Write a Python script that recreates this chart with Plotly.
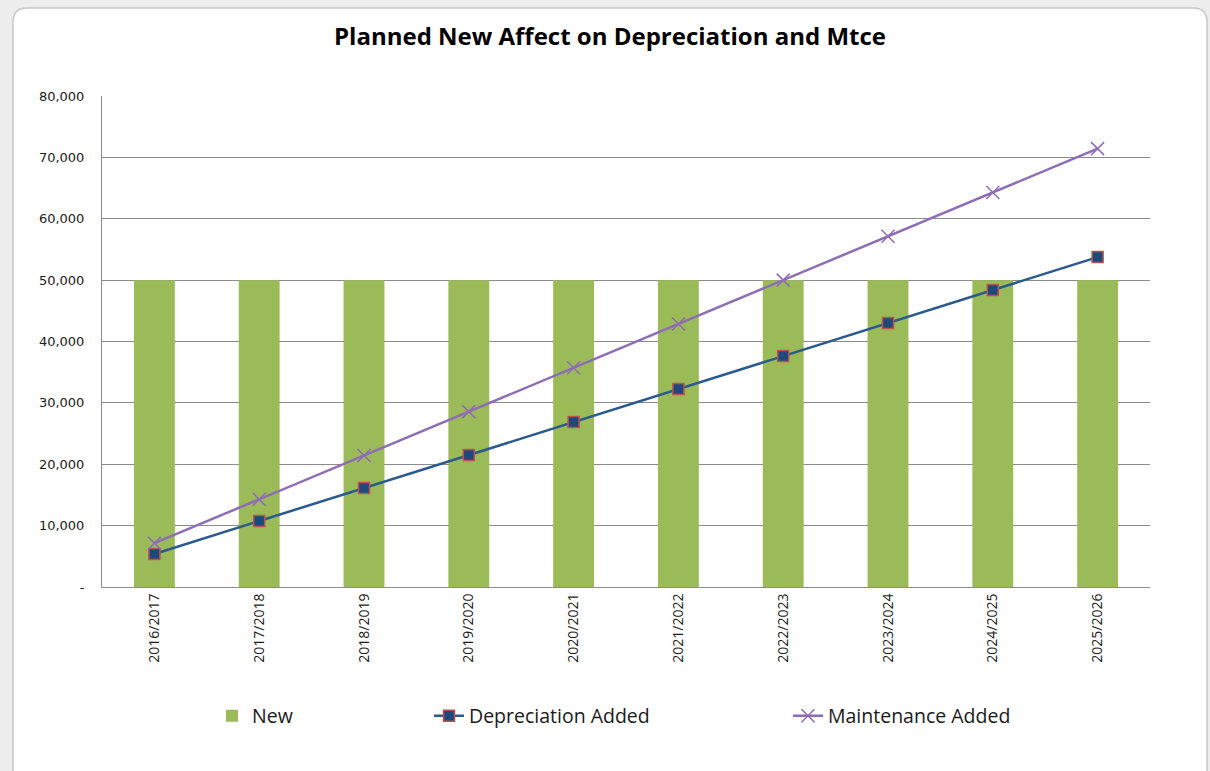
import plotly.graph_objects as go

categories = ["2016/2017", "2017/2018", "2018/2019", "2019/2020", "2020/2021",
              "2021/2022", "2022/2023", "2023/2024", "2024/2025", "2025/2026"]
new_values = [50000, 50000, 50000, 50000, 50000, 50000, 50000, 50000, 50000, 50000]
depreciation_added = [5375, 10750, 16125, 21500, 26875, 32250, 37625, 43000, 48375, 53750]
maintenance_added = [7143, 14286, 21429, 28571, 35714, 42857, 50000, 57143, 64286, 71429]
y_tick_values = [0, 10000, 20000, 30000, 40000, 50000, 60000, 70000, 80000]
y_tick_labels = ["-", "10,000", "20,000", "30,000", "40,000", "50,000", "60,000", "70,000", "80,000"]

W, H = 1210, 771
ML, MR, MT, MB = 102, 60, 96, 184
PW = W - ML - MR
PH = H - MT - MB

FONT = "Open Sans"

def px_x(p):
    return (p - ML) / PW

def px_y(p):
    return (H - MB - p) / PH

fig = go.Figure()
fig.add_trace(go.Bar(
    x=categories, y=new_values, name="New",
    marker=dict(color="#9BBB59", line=dict(width=0)),
    legend="legend2",
))
fig.add_trace(go.Scatter(
    x=categories, y=depreciation_added, name="Depreciation Added",
    mode="lines+markers",
    line=dict(color="#2B5A8E", width=2.5),
    marker=dict(symbol="square", size=11, color="#1F497D", line=dict(color="#C0504D", width=1.5)),
    legend="legend3",
))
fig.add_trace(go.Scatter(
    x=categories, y=maintenance_added, name="Maintenance Added",
    mode="lines+markers",
    line=dict(color="#8E6CB6", width=2.5),
    marker=dict(symbol="x-thin", size=13, color="#8E6CB6", line=dict(color="#8E6CB6", width=1.5)),
    legend="legend4",
))

# rounded chart-area rectangle (pixel offsets from plot origin)
x0, x1 = 13 - ML, 1207 - ML
y0, y1 = -(H + 10 - (H - MB)), (H - MB) - 8
r = 14
path = (f"M {x0+r},{y1} L {x1-r},{y1} Q {x1},{y1} {x1},{y1-r} "
        f"L {x1},{y0} L {x0},{y0} L {x0},{y1-r} Q {x0},{y1} {x0+r},{y1} Z")
fig.add_shape(type="path", path=path, xref="paper", yref="paper",
              xsizemode="pixel", ysizemode="pixel", xanchor=0, yanchor=0,
              fillcolor="white", line=dict(color="#c8c8c8", width=1.5), layer="below")

leg_common = dict(orientation="h", bgcolor="rgba(0,0,0,0)", font=dict(family=FONT, size=19.5, color="#1a1a1a"),
                  yanchor="middle", xanchor="left", itemwidth=30, tracegroupgap=0)

fig.update_layout(
    width=W, height=H,
    margin=dict(l=ML, r=MR, t=MT, b=MB),
    paper_bgcolor="#ededed",
    plot_bgcolor="white",
    bargap=0.61,
    title=dict(text="<b>Planned New Affect on Depreciation and Mtce</b>",
               x=610 / W, xref="container", xanchor="center", y=1 - 37 / H, yanchor="middle",
               font=dict(family=FONT, size=24, color="#000000")),
    legend2=dict(x=px_x(212), y=px_y(716), **leg_common),
    legend3=dict(x=px_x(429), y=px_y(716), **leg_common),
    legend4=dict(x=px_x(788), y=px_y(716), **leg_common),
    xaxis=dict(type="category", range=[-0.5, 9.5], tickangle=-90, showgrid=False,
               showline=True, linecolor="#8c8c8c", linewidth=1,
               ticks="", tickfont=dict(family=FONT, size=14, color="#1a1a1a")),
    yaxis=dict(range=[0, 80000], tickvals=y_tick_values, ticktext=y_tick_labels,
               showgrid=True, gridcolor="#8c8c8c", gridwidth=1,
               showline=True, linecolor="#8c8c8c", linewidth=1,
               zeroline=False, ticks="", ticklabelstandoff=14,
               tickfont=dict(family="DejaVu Sans", size=13, color="#1a1a1a")),
)

fig.write_html("out.html")
